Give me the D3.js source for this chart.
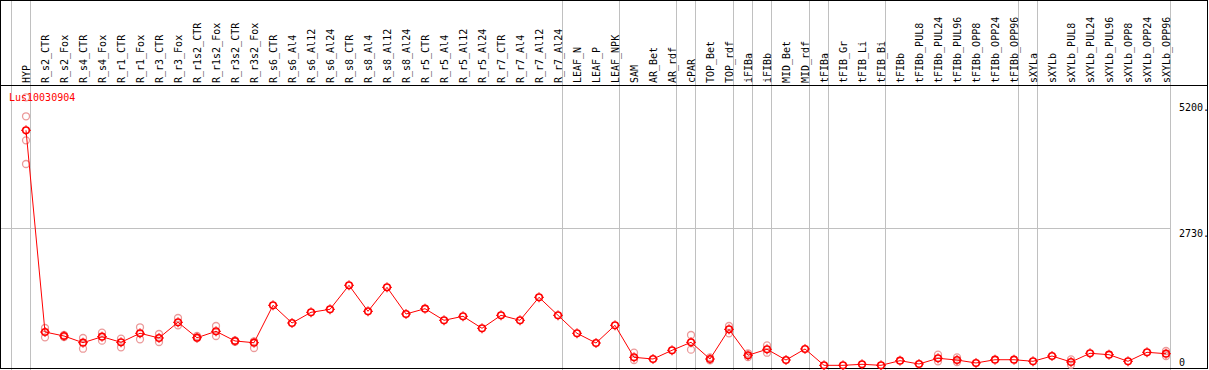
<!DOCTYPE html>
<html>
<head>
<meta charset="utf-8">
<script src="https://cdn.jsdelivr.net/npm/d3@7"></script>
<style>
  body { margin: 0; background: #fff; }
  svg { display: block; }
  text { font-family: "DejaVu Sans Mono", "Liberation Mono", monospace; font-size: 10px; }
</style>
</head>
<body>
<svg></svg>
<script>
// sample / tissue names along the top
const categories = [
	"HYP", "R_s2_CTR", "R_s2_Fox", "R_s4_CTR", "R_s4_Fox", "R_r1_CTR", "R_r1_Fox",
	"R_r3_CTR", "R_r3_Fox", "R_r1s2_CTR", "R_r1s2_Fox", "R_r3s2_CTR", "R_r3s2_Fox",
	"R_s6_CTR", "R_s6_Al4", "R_s6_Al12", "R_s6_Al24", "R_s8_CTR", "R_s8_Al4",
	"R_s8_Al12", "R_s8_Al24", "R_r5_CTR", "R_r5_Al4", "R_r5_Al12", "R_r5_Al24",
	"R_r7_CTR", "R_r7_Al4", "R_r7_Al12", "R_r7_Al24", "LEAF_N", "LEAF_P", "LEAF_NPK",
	"SAM", "AR_Bet", "AR_rdf", "cPAR", "TOP_Bet", "TOP_rdf", "iFIBa", "iFIBb",
	"MID_Bet", "MID_rdf", "tFIBa", "tFIB_Gr", "tFIB_Li", "tFIB_Bi", "tFIBb",
	"tFIBb_PUL8", "tFIBb_PUL24", "tFIBb_PUL96", "tFIBb_OPP8", "tFIBb_OPP24", "tFIBb_OPP96",
	"sXYLa", "sXYLb", "sXYLb_PUL8", "sXYLb_PUL24", "sXYLb_PUL96", "sXYLb_OPP8",
	"sXYLb_OPP24", "sXYLb_OPP96"
];

// mean expression per sample
const means = [
	4649, 687, 609, 477, 595, 485, 662, 570, 878, 575, 701, 511, 477,
	1212, 864, 1074, 1133, 1605, 1094, 1565, 1041, 1145, 917, 996, 760,
	1015, 917, 1369, 1015, 662, 471, 819,
	190, 157, 328, 485, 157, 740, 230, 348, 137, 354,
	33, 33, 53, 33, 124, 59, 171, 137, 79, 143, 143,
	112, 216, 98, 269, 242, 112, 289, 261
];

// individual replicates (only where they show up apart from the mean)
const replicates = [
	[5297, 4924, 4452, 3987], [766, 583], [628, 589], [570, 359], [674, 517],
	[556, 387], [780, 544], [648, 491], [962, 819], [609, 570], [805, 609],
	[524, 497], [505, 373],
	[], [], [], [], [], [], [], [], [], [], [], [], [], [], [], [], [], [], [],
	[281, 137], [], [], [628, 340], [190, 132], [805, 662], [269, 196], [426, 281], [], [],
	[], [], [], [], [], [], [242, 112], [190, 98], [], [], [],
	[], [], [151, 45], [], [], [], [], [314, 216]
];

// last sample of each group (-1 = left edge of the first band)
const groupEnds = [-1, 0, 28, 31, 34, 35, 37, 38, 39, 41, 42, 45, 52, 53, 60];

// right-hand axis labels
const yTicks = [5200, 2730, 0];
const gridValues = [2730];

const title = "Lus10030904";

const size = { w: 1209, h: 370 };
const headerH = 85;
const bottom = 368.5;

const svg = d3.select("svg").attr("width", size.w).attr("height", size.h);

const x = d3.scaleBand().domain(categories).range([11, 1170]);
const px = (d) => x(d) + x.bandwidth() * 0.79; // marker position inside each band
const y = d3.scaleLinear().domain([0, 2730]).range([367, 228]);

// grid
const gridG = svg.append("g").attr("stroke", "#c0c0c0").attr("stroke-width", 1);
gridG.selectAll("line.v")
	.data(groupEnds)
	.join("line")
	.attr("class", "v")
	.attr("x1", (k) => Math.round(k < 0 ? x.range()[0] : x(categories[k]) + x.bandwidth()) + 0.5)
	.attr("x2", (k) => Math.round(k < 0 ? x.range()[0] : x(categories[k]) + x.bandwidth()) + 0.5)
	.attr("y1", 0)
	.attr("y2", size.h);
gridG.selectAll("line.h")
	.data(gridValues)
	.join("line")
	.attr("class", "h")
	.attr("x1", 0)
	.attr("x2", x.range()[1])
	.attr("y1", (d) => Math.round(y(d)) + 0.5)
	.attr("y2", (d) => Math.round(y(d)) + 0.5);

// header labels
svg.append("g")
	.selectAll("text")
	.data(categories)
	.join("text")
	.attr("transform", (d) => `translate(${px(d)},${headerH - 2}) rotate(-90)`)
	.attr("dominant-baseline", "central")
	.attr("fill", "#000")
	.text((d) => d);

// frame + header separator
svg.append("rect")
	.attr("x", 0.5).attr("y", 0.5)
	.attr("width", size.w - 2).attr("height", bottom - 0.5)
	.attr("fill", "none").attr("stroke", "#000");
svg.append("line")
	.attr("x1", 0).attr("x2", size.w - 1)
	.attr("y1", headerH + 0.5).attr("y2", headerH + 0.5)
	.attr("stroke", "#000");

// y labels on the right
svg.append("g")
	.selectAll("text")
	.data(yTicks)
	.join("text")
	.attr("x", 1179)
	.attr("y", (d) => Math.min(y(d) + 5, 362))
	.attr("dominant-baseline", "central")
	.attr("fill", "#000")
	.text((d) => (d === 0 ? "0" : d + "."));

// replicate circles
const repData = [];
replicates.forEach((reps, i) => reps.forEach((v) => repData.push({ c: categories[i], v })));
svg.append("g")
	.selectAll("circle")
	.data(repData)
	.join("circle")
	.attr("cx", (d) => px(d.c))
	.attr("cy", (d) => y(d.v))
	.attr("r", 3.5)
	.attr("fill", "none")
	.attr("stroke", "#eb9a9a")
	.attr("stroke-width", 1.3);

// mean line
const line = d3.line().x((d, i) => px(categories[i])).y((d) => y(d));
svg.append("path")
	.datum(means)
	.attr("d", line)
	.attr("fill", "none")
	.attr("stroke", "#ff0000")
	.attr("stroke-width", 1);

// mean markers
const meanG = svg.append("g")
	.selectAll("g")
	.data(means)
	.join("g")
	.attr("transform", (d, i) => `translate(${px(categories[i])},${y(d)})`);
meanG.append("circle")
	.attr("r", 3.3)
	.attr("fill", "none")
	.attr("stroke", "#ff0000")
	.attr("stroke-width", 1.6);
meanG.append("path")
	.attr("d", "M0,-5V-3.5M0,3.5V5M-5,0H-3.5M3.5,0H5")
	.attr("stroke", "#ff0000")
	.attr("stroke-width", 1);

// gene id
svg.append("text")
	.attr("x", 9)
	.attr("y", 97)
	.attr("dominant-baseline", "central")
	.attr("fill", "#ff0000")
	.text(title);
</script>
</body>
</html>
